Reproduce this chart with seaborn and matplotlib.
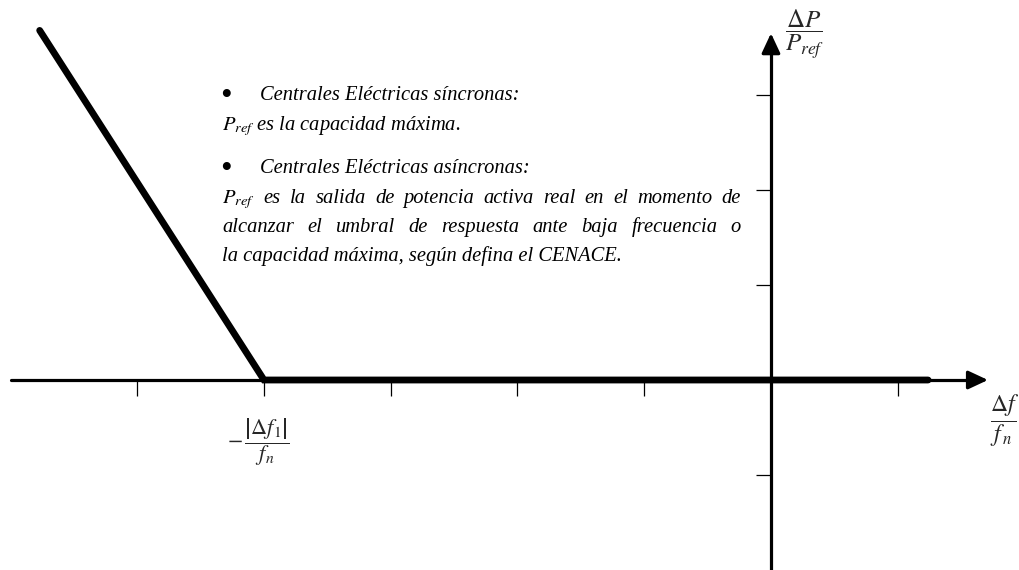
import matplotlib
matplotlib.use("Agg")
import matplotlib.pyplot as plt
import seaborn as sns
import pandas as pd

# ---- data ----
curve_x = [-5.77, -4.0, 1.24]
curve_y = [3.68, 0.0, 0.0]
xtick_vals = [-5, -4, -3, -2, -1, 1]
ytick_vals = [-1, 1, 2, 3]
x_label = r"$\dfrac{\Delta f}{f_{\,n}}$"
y_label = r"$\dfrac{\Delta P}{P_{ref}}$"
knee_label = r"$-\,\dfrac{\left|\Delta f_1\right|}{f_n}$"
note_lines = [
    ("bullet", "Centrales Eléctricas síncronas:"),
    ("plain", r"$P_{ref}$ es la capacidad máxima."),
    ("bullet", "Centrales Eléctricas asíncronas:"),
    ("justify", r"$P_{ref}$ es la salida de potencia activa real en el momento de"),
    ("justify", "alcanzar el umbral de respuesta ante baja frecuencia o"),
    ("plain", "la capacidad máxima, según defina el CENACE."),
]

sns.set_theme(style="white")
plt.rcParams["font.family"] = ["Liberation Serif", "DejaVu Serif"]
plt.rcParams["mathtext.fontset"] = "stix"

W, H = 1019, 570
fig = plt.figure(figsize=(W / 100, H / 100), dpi=100)
ax = fig.add_axes([0, 0, 1, 1])
ax.set_xlim(-6.083, 1.957)
ax.set_ylim(-2.0, 4.0)

df = pd.DataFrame({"x": curve_x, "y": curve_y})
sns.lineplot(data=df, x="x", y="y", sort=False, color="black", linewidth=4.9,
             ax=ax, solid_capstyle="round", solid_joinstyle="miter", zorder=5)

# axes through origin
for s in ["top", "right"]:
    ax.spines[s].set_visible(False)
ax.spines["left"].set_position(("data", 0))
ax.spines["bottom"].set_position(("data", 0))
ax.spines["left"].set_bounds(-2.0, 3.5)
ax.spines["bottom"].set_bounds(-6.0, 1.6)
for s in ["left", "bottom"]:
    ax.spines[s].set_linewidth(2.3)
    ax.spines[s].set_color("black")
    ax.spines[s].set_capstyle("round")
ax.set_xticks(xtick_vals)
ax.set_yticks(ytick_vals)
ax.set_xticklabels([])
ax.set_yticklabels([])
ax.tick_params(axis="x", direction="out", length=11.5, width=0.9, color="black", bottom=True)
ax.tick_params(axis="y", direction="out", length=11.0, width=0.9, color="black", left=True)
ax.set_xlabel("")
ax.set_ylabel("")

# arrow heads
arrow_kw = dict(arrowstyle="-|>,head_length=0.6,head_width=0.28",
                mutation_scale=20, color="black", lw=2.3, shrinkA=0, shrinkB=0)
ax.annotate("", xy=(1.712, 0), xytext=(1.55, 0), arrowprops=arrow_kw)
ax.annotate("", xy=(0, 3.65), xytext=(0, 3.45), arrowprops=arrow_kw)

# axis labels
fig.text(805 / W, 1 - 34 / H, y_label, ha="center", va="center", fontsize=18)
fig.text(1005 / W, 1 - 421 / H, x_label, ha="center", va="center", fontsize=17)
fig.text(258 / W, 1 - 442 / H, knee_label, ha="center", va="center", fontsize=16)

# note block
renderer = fig.canvas.get_renderer()
fs = 14.8
x0, x_text, x_right = 222, 222, 741
bullet_indent = 260
baselines = [100, 130, 173, 203, 232, 261]
style = dict(fontsize=fs, style="italic", va="baseline", ha="left", color="black")
for (kind, txt), yb in zip(note_lines, baselines):
    yf = 1 - yb / H
    if kind == "bullet":
        fig.text((x0 - 2) / W, 1 - (yb + 5) / H, "\u2022", fontsize=fs * 1.6,
                 va="baseline", ha="left", color="black")
        fig.text(bullet_indent / W, yf, txt, **style)
    elif kind == "plain":
        fig.text(x_text / W, yf, txt, **style)
    else:
        words = txt.split(" ")
        texts = [fig.text(0, yf, w, **style) for w in words]
        widths = [t.get_window_extent(renderer).width for t in texts]
        gap = (x_right - x_text - sum(widths)) / (len(words) - 1)
        xp = x_text
        for t, wdt in zip(texts, widths):
            t.set_x(xp / W)
            xp += wdt + gap

fig.savefig("out.png", dpi=100)
